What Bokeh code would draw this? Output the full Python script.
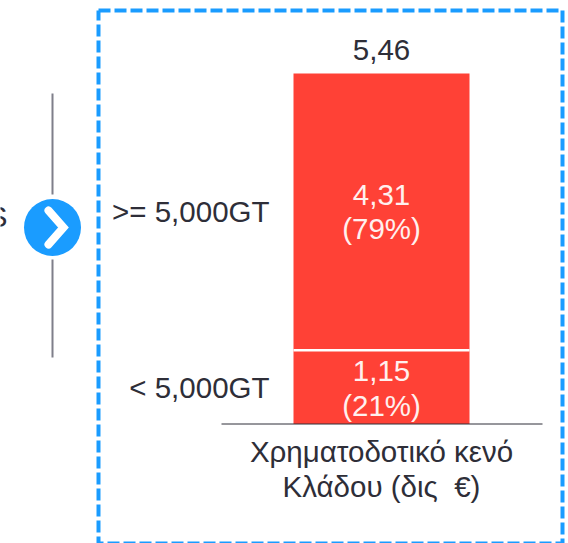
from bokeh.plotting import figure
from bokeh.models import Range1d
from bokeh.core.properties import value
from bokeh.embed import file_html
from bokeh.resources import INLINE

# Data
categories = ["< 5,000GT", ">= 5,000GT"]
values = [1.15, 4.31]
total = 5.46
value_labels = [["1,15", "(21%)"], ["4,31", "(79%)"]]
total_label = "5,46"
axis_label = ["Χρηματοδοτικό κενό", "Κλάδου (δις\u00a0 €)"]
side_word = "S"

W, H = 568, 543
BASE = 423.5
PX = 64.2
def Y(px):
    return (BASE - px) / PX

p = figure(width=W, height=H, output_backend="svg", toolbar_location=None,
           x_range=Range1d(0, W), y_range=Range1d(Y(H), Y(0)),
           x_axis_type=None, y_axis_type=None, min_border=0,
           outline_line_color=None, background_fill_color="white",
           border_fill_color="white", margin=(0, 0, 0, 0))
p.grid.visible = False

FONT = value("Liberation Sans")
DARK = "#2e2e38"
BLUE = "#1a9cff"
RED = "#ff4136"
CX, BW = 381, 176

# dashed frame
p.line([98, 562, 562, 98, 98], [Y(10), Y(10), Y(543), Y(543), Y(10)],
       line_color=BLUE, line_width=4, line_dash="12 4", line_join="round")

# stacked bars
bottom = 0
for v in values:
    p.vbar(x=[CX], bottom=[bottom], top=[bottom + v], width=BW, fill_color=RED,
           line_color=None)
    bottom += v
p.line([CX - BW / 2, CX + BW / 2], [values[0], values[0]], line_color="white", line_width=2.5)
p.line([221, 542], [0, 0], line_color="#2e2e38", line_width=1)

# connector and chevron
p.line([52, 52], [Y(93), Y(194)], line_color="#7f7f8a", line_width=2)
p.line([52, 52], [Y(259), Y(357)], line_color="#7f7f8a", line_width=2)
p.scatter([52], [Y(227)], size=57, marker="circle", fill_color=BLUE, line_color=None)
p.line([48, 63, 48], [Y(210), Y(227), Y(244)], line_color="white", line_width=8,
       line_cap="round", line_join="miter")

def txt(x, py, s, color=DARK, align="center", size="29.5px"):
    p.text([x], [Y(py)], text=[s], text_font=FONT, text_font_size=size, text_color=color,
           text_align=align, text_baseline="middle")

txt(381, 49.5, total_label)
txt(381, 194, value_labels[1][0], "#fff0ee")
txt(381, 228, value_labels[1][1], "#fff0ee")
txt(381, 370, value_labels[0][0], "#fff0ee")
txt(381, 404.5, value_labels[0][1], "#fff0ee")
txt(269, 211, categories[1], align="right")
txt(269, 387, categories[0], align="right")
txt(381, 451, axis_label[0])
txt(381, 486, axis_label[1])
txt(7, 216, side_word, align="right")

open("out.html", "w").write(file_html(p, INLINE))
